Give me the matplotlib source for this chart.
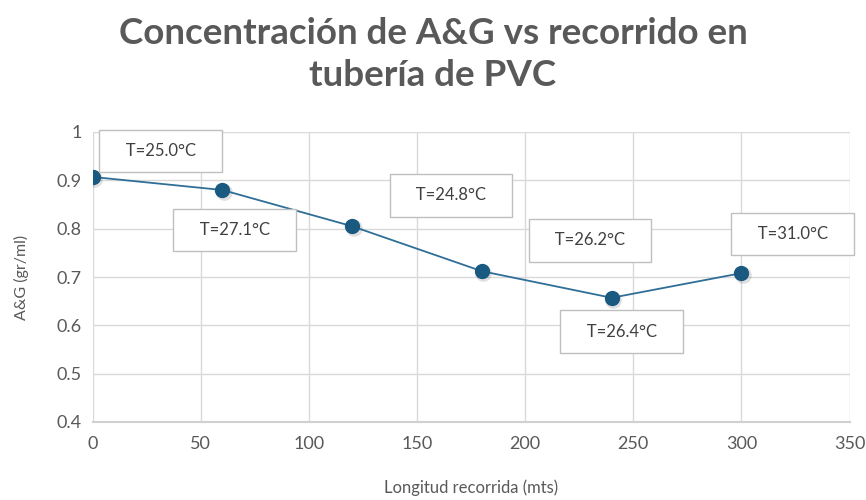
import matplotlib
matplotlib.use("Agg")
import matplotlib.pyplot as plt

# data
distance_m = [0, 60, 120, 180, 240, 300]
ag_conc = [0.907, 0.880, 0.805, 0.712, 0.657, 0.708]
temps = ["T=25.0°C", "T=27.1°C", "T=24.8°C", "T=26.2°C", "T=26.4°C", "T=31.0°C"]

# label box offsets from each point, in pixels (layout only)
label_offsets = [(68, 26), (12, -40), (99, 31), (108, 31), (10, -34), (51, 39)]

grey = "#595959"
line_col = "#2f6f97"
mark_col = "#1a5a80"
plt.rcParams["font.family"] = ["Lato", "DejaVu Sans"]

fig = plt.figure(figsize=(8.66, 5.0), dpi=100)
ax = fig.add_axes([0.107, 0.156, 0.874, 0.58])

# soft shadow under the markers
ax.plot(distance_m, ag_conc, ls="none", marker="o", ms=12, mfc="#000000", mec="none",
        alpha=0.12, zorder=2, transform=ax.transData + matplotlib.transforms.ScaledTranslation(
            1.5 / 100, -2 / 100, fig.dpi_scale_trans))
ax.plot(distance_m, ag_conc, color=line_col, lw=1.3, marker="o", ms=10,
        mfc=mark_col, mec=mark_col, zorder=3)

for x, y, txt, (dx, dy) in zip(distance_m, ag_conc, temps, label_offsets):
    ax.annotate(f"   {txt}   ", (x, y), xytext=(dx, dy), textcoords="offset pixels",
                ha="center", va="center", fontsize=12, color="#404040",
                bbox=dict(boxstyle="square,pad=0.8", fc="white", ec="#bfbfbf", lw=1),
                zorder=4)

ax.set_xlim(0, 350)
ax.set_ylim(0.4, 1.0)
ax.set_xticks(range(0, 351, 50))
ax.set_yticks([0.4, 0.5, 0.6, 0.7, 0.8, 0.9, 1.0])
ax.set_yticklabels(["0.4", "0.5", "0.6", "0.7", "0.8", "0.9", "1"])
ax.grid(True, color="#d9d9d9", lw=1)
ax.set_axisbelow(True)
for s in ["top", "right", "left"]:
    ax.spines[s].set_visible(False)
ax.spines["bottom"].set_color("#d0d0d0")
ax.spines["bottom"].set_linewidth(1.5)
ax.tick_params(length=0, colors=grey, labelsize=13, pad=10)
ax.tick_params(axis="y", pad=8)

ax.set_xlabel("Longitud recorrida (mts)", color=grey, fontsize=12, labelpad=20)
ax.set_ylabel("A&G (gr/ml)", color=grey, fontsize=11.5, labelpad=20)

fig.text(0.5, 0.965, "Concentración de A&G vs recorrido en\ntubería de PVC",
         ha="center", va="top", fontsize=26.5, fontweight="bold", color=grey,
         linespacing=1.3)

fig.savefig("out.png", dpi=100, facecolor="white")
